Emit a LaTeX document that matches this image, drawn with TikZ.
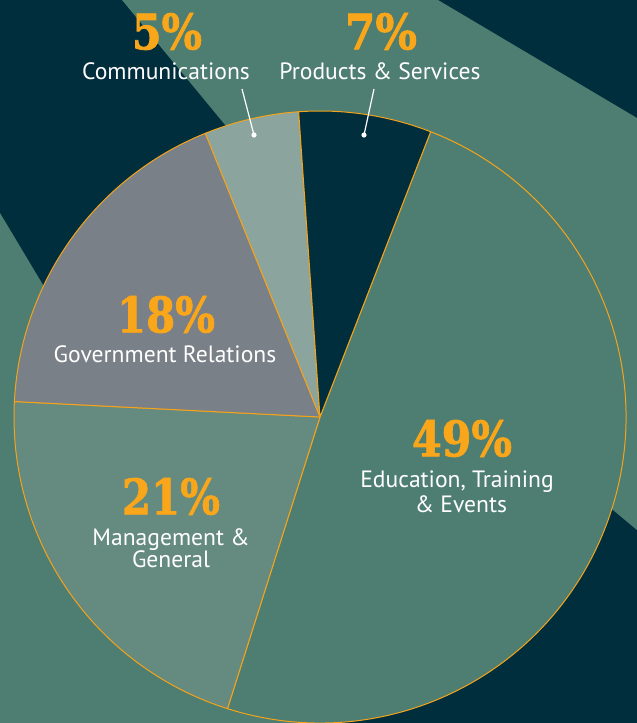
\documentclass[tikz,border=0pt]{standalone}
\usepackage{fontspec}
\usepackage{graphicx}
\setmainfont{PT Sans}
\newfontfamily\numfont{DejaVu Serif Bold}[FakeBold=1.6]
\definecolor{bgdark}{HTML}{002E3D}
\definecolor{bandgreen}{HTML}{4E7E71}
\definecolor{edu}{HTML}{4E7E71}
\definecolor{mgmt}{HTML}{658A80}
\definecolor{gov}{HTML}{7A8087}
\definecolor{comm}{HTML}{8BA49D}
\definecolor{prod}{HTML}{002E3D}
\definecolor{numorange}{HTML}{F9A61A}
\definecolor{pieline}{HTML}{F5A31A}
\newcommand\bignum[2]{\resizebox*{#1pt}{37pt}{\numfont #2}}
\tikzset{
  pct/.style={text=numorange, inner sep=0pt, anchor=center},
  lbl/.style={text=white, font=\fontsize{23.6}{25}\selectfont, inner sep=0pt, anchor=base},
  slicebox/.style={draw=pieline, line width=1pt, line join=round},
  leader/.style={draw=white, line width=1.2pt},
  leaderdot/.style={fill=white, draw=none},
}
\begin{document}
\begin{tikzpicture}[x=1pt,y=1pt]
\useasboundingbox (0,0) rectangle (637,-723);
% background
\fill[bgdark] (0,0) rectangle (637,-723);
\fill[bandgreen] (122,0) -- (438,0) -- (637,-118) -- (637,-530) -- (613,-510) -- (226,-126) -- cycle;
\fill[bandgreen] (0,-213) -- (305,-723) -- (0,-723) -- cycle;
% pie
\coordinate (C) at (320,-417);
\def\R{306}
\filldraw[slicebox, fill=edu]  (C) -- ++(68.8:\R)   arc[start angle=68.8,   end angle=-107.6, radius=\R] -- cycle;
\filldraw[slicebox, fill=mgmt] (C) -- ++(-107.6:\R) arc[start angle=-107.6, end angle=-182.9, radius=\R] -- cycle;
\filldraw[slicebox, fill=gov]  (C) -- ++(177.1:\R)  arc[start angle=177.1,  end angle=112.0,  radius=\R] -- cycle;
\filldraw[slicebox, fill=comm] (C) -- ++(112.0:\R)  arc[start angle=112.0,  end angle=94.0,   radius=\R] -- cycle;
\filldraw[slicebox, fill=prod] (C) -- ++(94.0:\R)   arc[start angle=94.0,   end angle=68.8,   radius=\R] -- cycle;
% labels
\node[pct] (p5)  at (167,-31.5) {\bignum{70}{5\%}};
\node[lbl] (t5)  at (166,-79) {Communications};
\node[pct] (p7)  at (381,-31.5) {\bignum{72}{7\%}};
\node[lbl] (t7)  at (380,-79) {Products \& Services};
\node[pct] (p18) at (166,-314.5) {\bignum{98}{18\%}};
\node[lbl] (t18) at (165,-362) {Government Relations};
\node[pct] (p49) at (462,-438.5) {\bignum{100}{49\%}};
\node[lbl] (t49a) at (457,-487) {Education, Training};
\node[lbl] (t49b) at (461,-512) {\& Events};
\node[pct] (p21) at (171,-496.5) {\bignum{98}{21\%}};
\node[lbl] (t21a) at (171,-545) {Management \&};
\node[lbl] (t21b) at (171,-567) {General};
% leaders
\coordinate (c5top) at (242,-89);
\coordinate (c5dot) at (254,-135);
\coordinate (c7top) at (374,-89);
\coordinate (c7dot) at (364,-135);
\draw[leader] (c5top) -- (c5dot);
\draw[leader] (c7top) -- (c7dot);
\fill[leaderdot] (c5dot) circle (2.6);
\fill[leaderdot] (c7dot) circle (2.6);
\end{tikzpicture}
\end{document}
